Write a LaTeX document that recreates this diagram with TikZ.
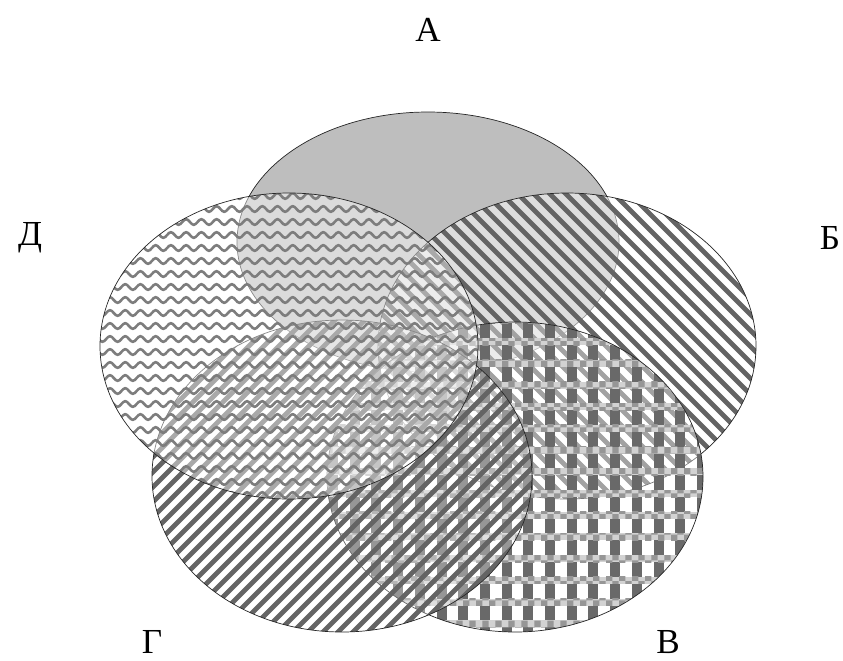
\documentclass[tikz,border=0pt]{standalone}
\usepackage{fontspec}
\setmainfont{Liberation Serif}
\usetikzlibrary{patterns,decorations.pathmorphing}
\definecolor{afill}{RGB}{190,190,190}
\definecolor{stripe}{RGB}{100,100,100}
\definecolor{wave}{RGB}{125,125,125}
\definecolor{bar}{RGB}{105,105,105}
\definecolor{band}{RGB}{210,210,210}
\definecolor{bandchk}{RGB}{150,150,150}
\begin{document}
\begin{tikzpicture}[x=0.03cm,y=-0.03cm,
  outline/.style={draw=black!85, line width=0.6pt},
  lbl/.style={font=\fontsize{30}{36}\selectfont, inner sep=0pt},
  veil/.style={fill=white, fill opacity=#1},
  stripeline/.style={draw=stripe, line width=4.2pt},
  waveline/.style={draw=wave, line width=2.2pt, decorate,
    decoration={snake, segment length=13pt, amplitude=2.4pt}}]
\useasboundingbox (0,0) rectangle (843,660);
\coordinate (cA) at (428,242);
\coordinate (cB) at (567,346);
\coordinate (cV) at (515,477);
\coordinate (cG) at (342,476);
\coordinate (cD) at (289,346);
% A
\fill[afill] (cA) ellipse [x radius=191, y radius=130];
\draw[outline] (cA) ellipse [x radius=191, y radius=130];
% B (Б)
\begin{scope}
\clip (cB) ellipse [x radius=189, y radius=153];
\fill[veil=0.5] (370,185) rectangle (765,505);
\foreach \c in {-140,-124,...,580} \draw[stripeline] (\c-20,-20) -- (\c+700,700);
\end{scope}
\draw[outline] (cB) ellipse [x radius=189, y radius=153];
% V (В)
\begin{scope}
\clip (cV) ellipse [x radius=188, y radius=155];
\fill[veil=0.4] (320,315) rectangle (710,640);
\foreach \x in {306.3,328,...,720} \fill[bar] (\x,315) rectangle (\x+10,640);
\foreach \y in {316.4,338.1,...,640} {
  \fill[band] (320,\y) rectangle (710,\y+7);
  \fill[pattern=checkerboard, pattern color=bandchk] (320,\y) rectangle (710,\y+7);
}
\end{scope}
\draw[outline] (cV) ellipse [x radius=188, y radius=155];
% G (Г)
\begin{scope}
\clip (cG) ellipse [x radius=190, y radius=156];
\fill[veil=0.3] (145,315) rectangle (540,640);
\foreach \c in {460,475,...,1180} \draw[stripeline] (\c+20,-20) -- (\c-700,700);
\end{scope}
\draw[outline] (cG) ellipse [x radius=190, y radius=156];
% D (Д)
\begin{scope}
\clip (cD) ellipse [x radius=189, y radius=153];
\fill[veil=0.45] (95,185) rectangle (485,505);
\foreach \y in {196,209,...,505} \draw[waveline] (90,\y) -- (490,\y);
\end{scope}
\draw[outline] (cD) ellipse [x radius=189, y radius=153];
% labels
\node[lbl] (la) at (428,30) {А};
\node[lbl] (lb) at (830,238) {Б};
\node[lbl] (lv) at (668,642) {В};
\node[lbl] (lg) at (152,642) {Г};
\node[lbl] (ld) at (30,238) {Д};
\end{tikzpicture}
\end{document}
